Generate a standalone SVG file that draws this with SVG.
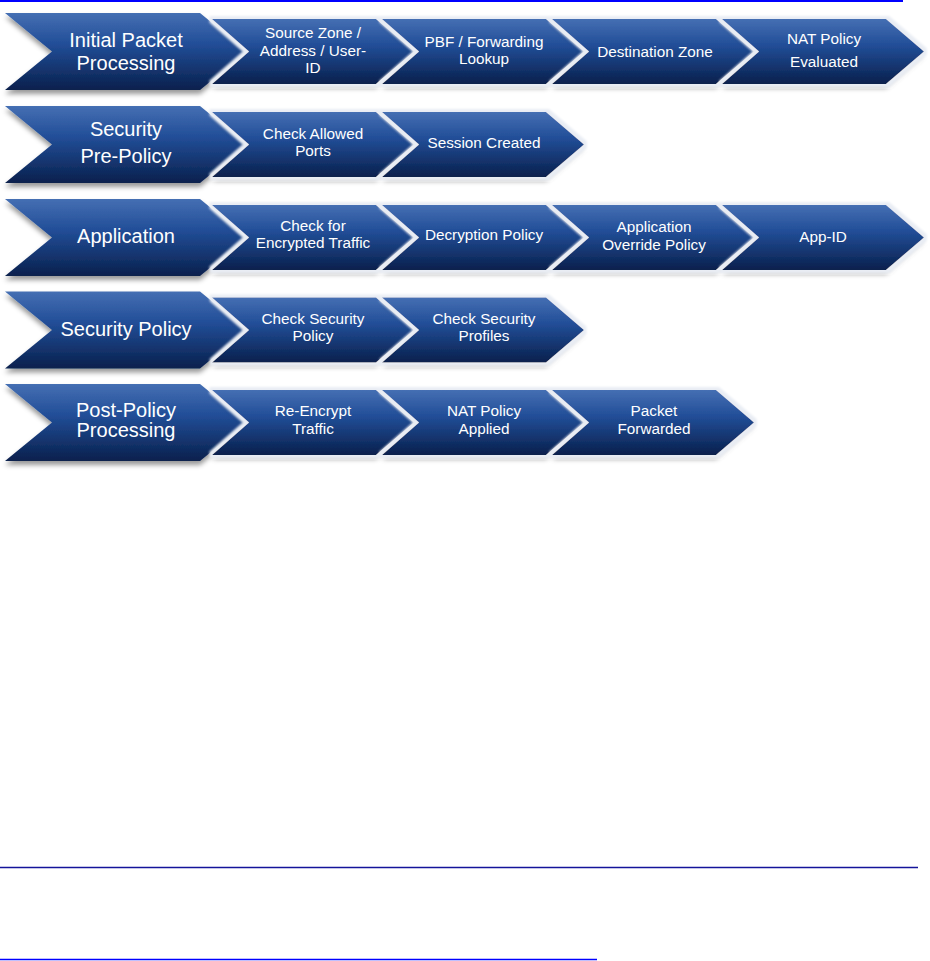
<svg xmlns="http://www.w3.org/2000/svg" width="930" height="961" viewBox="0 0 930 961">
<defs>
<linearGradient id="gB" x1="0" y1="0" x2="0" y2="1">
<stop offset="0" stop-color="#456fb3"/>
<stop offset="0.4" stop-color="#224e98"/>
<stop offset="1" stop-color="#09204d"/>
</linearGradient>
<filter id="fBig" x="-5%" y="-10%" width="115%" height="130%">
<feGaussianBlur in="SourceAlpha" stdDeviation="2.5" result="b"/>
<feOffset in="b" dy="4" result="o"/>
<feFlood flood-color="#000" flood-opacity="0.4"/>
<feComposite in2="o" operator="in" result="sh"/>
<feMerge><feMergeNode in="sh"/><feMergeNode in="SourceGraphic"/></feMerge>
</filter>
<filter id="fSm" x="-8%" y="-15%" width="120%" height="140%">
<feGaussianBlur in="SourceAlpha" stdDeviation="2.5" result="b"/>
<feOffset in="b" dy="4" result="o"/>
<feFlood flood-color="#000" flood-opacity="0.4"/>
<feComposite in2="o" operator="in" result="sh"/>
<feMorphology in="SourceAlpha" operator="dilate" radius="2.5" result="d"/>
<feGaussianBlur in="d" stdDeviation="0.8" result="db"/>
<feFlood flood-color="#e9edf4"/>
<feComposite in2="db" operator="in" result="glow"/>
<feMerge><feMergeNode in="sh"/><feMergeNode in="glow"/><feMergeNode in="SourceGraphic"/></feMerge>
</filter>
<path id="big" d="M0,-38.5 L195,-38.5 L242,0 L195,38.5 L0,38.5 L47,0 Z"/>
<path id="sm" d="M0,-32.5 L164,-32.5 L202,0 L164,32.5 L0,32.5 L37,0 Z"/>
</defs>
<style>
.big{fill:url(#gB);filter:url(#fBig)}
.sm{fill:url(#gB);filter:url(#fSm)}
text{fill:#ffffff;font-family:"Liberation Sans",Arial,sans-serif;text-anchor:middle}
.tb{font-size:20px}
.ts{font-size:15.3px}
</style>

<line x1="0" y1="1" x2="903" y2="1" stroke="#0000ff" stroke-width="2"/>
<line x1="0" y1="867.5" x2="918" y2="867.5" stroke="#14149a" stroke-width="1.5"/>
<line x1="0" y1="959.5" x2="597" y2="959.5" stroke="#0000ff" stroke-width="1.5"/>

<!-- Row 1 -->
<g id="initial-packet-processing">
<use href="#big" class="big" x="5" y="51.5"/>
<text class="tb" x="126" y="47">Initial Packet</text>
<text class="tb" x="126" y="70">Processing</text>
</g>
<g id="source-zone">
<use href="#sm" class="sm" x="212" y="51.5"/>
<text class="ts" x="313" y="38">Source Zone /</text>
<text class="ts" x="313" y="55.5">Address / User-</text>
<text class="ts" x="313" y="73">ID</text>
</g>
<g id="pbf-lookup">
<use href="#sm" class="sm" x="382" y="51.5"/>
<text class="ts" x="484" y="47">PBF / Forwarding</text>
<text class="ts" x="484" y="64">Lookup</text>
</g>
<g id="destination-zone">
<use href="#sm" class="sm" x="552" y="51.5"/>
<text class="ts" x="655" y="57">Destination Zone</text>
</g>
<g id="nat-policy-evaluated">
<use href="#sm" class="sm" x="722" y="51.5"/>
<text class="ts" x="824" y="44">NAT Policy</text>
<text class="ts" x="824" y="67">Evaluated</text>
</g>

<!-- Row 2 -->
<g id="security-pre-policy">
<use href="#big" class="big" x="5" y="144.5"/>
<text class="tb" x="126" y="136">Security</text>
<text class="tb" x="126" y="163">Pre-Policy</text>
</g>
<g id="check-allowed-ports">
<use href="#sm" class="sm" x="212" y="144.5"/>
<text class="ts" x="313" y="139">Check Allowed</text>
<text class="ts" x="313" y="156">Ports</text>
</g>
<g id="session-created">
<use href="#sm" class="sm" x="382" y="144.5"/>
<text class="ts" x="484" y="148">Session Created</text>
</g>

<!-- Row 3 -->
<g id="application">
<use href="#big" class="big" x="5" y="237.5"/>
<text class="tb" x="126" y="243">Application</text>
</g>
<g id="check-encrypted-traffic">
<use href="#sm" class="sm" x="212" y="237.5"/>
<text class="ts" x="313" y="231">Check for</text>
<text class="ts" x="313" y="248">Encrypted Traffic</text>
</g>
<g id="decryption-policy">
<use href="#sm" class="sm" x="382" y="237.5"/>
<text class="ts" x="484" y="240">Decryption Policy</text>
</g>
<g id="application-override-policy">
<use href="#sm" class="sm" x="552" y="237.5"/>
<text class="ts" x="654" y="232">Application</text>
<text class="ts" x="654" y="250">Override Policy</text>
</g>
<g id="app-id">
<use href="#sm" class="sm" x="722" y="237.5"/>
<text class="ts" x="823" y="242">App-ID</text>
</g>

<!-- Row 4 -->
<g id="security-policy">
<use href="#big" class="big" x="5" y="330"/>
<text class="tb" x="126" y="336">Security Policy</text>
</g>
<g id="check-security-policy">
<use href="#sm" class="sm" x="212" y="330"/>
<text class="ts" x="313" y="324">Check Security</text>
<text class="ts" x="313" y="341">Policy</text>
</g>
<g id="check-security-profiles">
<use href="#sm" class="sm" x="382" y="330"/>
<text class="ts" x="484" y="324">Check Security</text>
<text class="ts" x="484" y="341">Profiles</text>
</g>

<!-- Row 5 -->
<g id="post-policy-processing">
<use href="#big" class="big" x="5" y="422.5"/>
<text class="tb" x="126" y="417">Post-Policy</text>
<text class="tb" x="126" y="437">Processing</text>
</g>
<g id="re-encrypt-traffic">
<use href="#sm" class="sm" x="212" y="422.5"/>
<text class="ts" x="313" y="416">Re-Encrypt</text>
<text class="ts" x="313" y="434">Traffic</text>
</g>
<g id="nat-policy-applied">
<use href="#sm" class="sm" x="382" y="422.5"/>
<text class="ts" x="484" y="416">NAT Policy</text>
<text class="ts" x="484" y="434">Applied</text>
</g>
<g id="packet-forwarded">
<use href="#sm" class="sm" x="552" y="422.5"/>
<text class="ts" x="654" y="416">Packet</text>
<text class="ts" x="654" y="434">Forwarded</text>
</g>
</svg>
